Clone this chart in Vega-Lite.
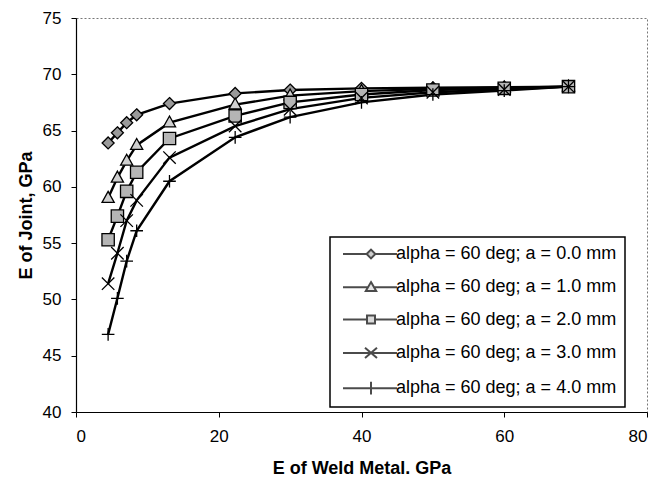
{
  "$schema": "https://vega.github.io/schema/vega-lite/v6.json",
  "width": 571,
  "height": 394,
  "autosize": {"type": "none"},
  "padding": {"left": 76, "top": 18, "right": 22, "bottom": 74},
  "background": "white",
  "config": {
    "font": "Liberation Sans",
    "view": {"stroke": "#777777", "strokeDash": [2, 2], "strokeWidth": 1},
    "axis": {
      "grid": false,
      "domainColor": "black",
      "domainWidth": 1.2,
      "tickColor": "black",
      "tickSize": 5,
      "labelColor": "black",
      "labelFontSize": 17,
      "titleColor": "black",
      "titleFontSize": 18,
      "titleFontWeight": "bold"
    },
    "legend": {
      "orient": "none",
      "legendX": 254,
      "legendY": 219,
      "strokeColor": "black",
      "strokeWidth": 1.5,
      "fillColor": "white",
      "padding": 8,
      "rowPadding": 14.3,
      "labelFontSize": 18,
      "labelColor": "black",
      "labelOffset": 40,
      "labelLimit": 400,
      "symbolSize": 64,
      "symbolStrokeWidth": 2
    }
  },
  "datasets": {
    "pts": [
      {"series": "alpha = 60 deg; a = 0.0 mm", "x": 4.5, "y": 63.9},
      {"series": "alpha = 60 deg; a = 0.0 mm", "x": 5.8, "y": 64.8},
      {"series": "alpha = 60 deg; a = 0.0 mm", "x": 7.1, "y": 65.7},
      {"series": "alpha = 60 deg; a = 0.0 mm", "x": 8.5, "y": 66.4},
      {"series": "alpha = 60 deg; a = 0.0 mm", "x": 13.1, "y": 67.4},
      {"series": "alpha = 60 deg; a = 0.0 mm", "x": 22.3, "y": 68.3},
      {"series": "alpha = 60 deg; a = 0.0 mm", "x": 30, "y": 68.6},
      {"series": "alpha = 60 deg; a = 0.0 mm", "x": 40, "y": 68.75},
      {"series": "alpha = 60 deg; a = 0.0 mm", "x": 50, "y": 68.8},
      {"series": "alpha = 60 deg; a = 0.0 mm", "x": 60, "y": 68.85},
      {"series": "alpha = 60 deg; a = 0.0 mm", "x": 69, "y": 68.9},
      {"series": "alpha = 60 deg; a = 1.0 mm", "x": 4.5, "y": 59.0},
      {"series": "alpha = 60 deg; a = 1.0 mm", "x": 5.8, "y": 60.8},
      {"series": "alpha = 60 deg; a = 1.0 mm", "x": 7.1, "y": 62.3},
      {"series": "alpha = 60 deg; a = 1.0 mm", "x": 8.5, "y": 63.7},
      {"series": "alpha = 60 deg; a = 1.0 mm", "x": 13.1, "y": 65.7},
      {"series": "alpha = 60 deg; a = 1.0 mm", "x": 22.3, "y": 67.3},
      {"series": "alpha = 60 deg; a = 1.0 mm", "x": 30, "y": 68.1},
      {"series": "alpha = 60 deg; a = 1.0 mm", "x": 40, "y": 68.5},
      {"series": "alpha = 60 deg; a = 1.0 mm", "x": 50, "y": 68.7},
      {"series": "alpha = 60 deg; a = 1.0 mm", "x": 60, "y": 68.8},
      {"series": "alpha = 60 deg; a = 1.0 mm", "x": 69, "y": 68.9},
      {"series": "alpha = 60 deg; a = 2.0 mm", "x": 4.5, "y": 55.3},
      {"series": "alpha = 60 deg; a = 2.0 mm", "x": 5.8, "y": 57.4},
      {"series": "alpha = 60 deg; a = 2.0 mm", "x": 7.1, "y": 59.6},
      {"series": "alpha = 60 deg; a = 2.0 mm", "x": 8.5, "y": 61.3},
      {"series": "alpha = 60 deg; a = 2.0 mm", "x": 13.1, "y": 64.3},
      {"series": "alpha = 60 deg; a = 2.0 mm", "x": 22.3, "y": 66.3},
      {"series": "alpha = 60 deg; a = 2.0 mm", "x": 30, "y": 67.5},
      {"series": "alpha = 60 deg; a = 2.0 mm", "x": 40, "y": 68.2},
      {"series": "alpha = 60 deg; a = 2.0 mm", "x": 50, "y": 68.6},
      {"series": "alpha = 60 deg; a = 2.0 mm", "x": 60, "y": 68.75},
      {"series": "alpha = 60 deg; a = 2.0 mm", "x": 69, "y": 68.9},
      {"series": "alpha = 60 deg; a = 3.0 mm", "x": 4.5, "y": 51.4},
      {"series": "alpha = 60 deg; a = 3.0 mm", "x": 5.8, "y": 54.1},
      {"series": "alpha = 60 deg; a = 3.0 mm", "x": 7.1, "y": 57.0},
      {"series": "alpha = 60 deg; a = 3.0 mm", "x": 8.5, "y": 58.8},
      {"series": "alpha = 60 deg; a = 3.0 mm", "x": 13.1, "y": 62.6},
      {"series": "alpha = 60 deg; a = 3.0 mm", "x": 22.3, "y": 65.4},
      {"series": "alpha = 60 deg; a = 3.0 mm", "x": 30, "y": 66.9},
      {"series": "alpha = 60 deg; a = 3.0 mm", "x": 40, "y": 67.9},
      {"series": "alpha = 60 deg; a = 3.0 mm", "x": 50, "y": 68.4},
      {"series": "alpha = 60 deg; a = 3.0 mm", "x": 60, "y": 68.65},
      {"series": "alpha = 60 deg; a = 3.0 mm", "x": 69, "y": 68.9},
      {"series": "alpha = 60 deg; a = 4.0 mm", "x": 4.5, "y": 46.9},
      {"series": "alpha = 60 deg; a = 4.0 mm", "x": 5.8, "y": 50.1},
      {"series": "alpha = 60 deg; a = 4.0 mm", "x": 7.1, "y": 53.4},
      {"series": "alpha = 60 deg; a = 4.0 mm", "x": 8.5, "y": 56.1},
      {"series": "alpha = 60 deg; a = 4.0 mm", "x": 13.1, "y": 60.5},
      {"series": "alpha = 60 deg; a = 4.0 mm", "x": 22.3, "y": 64.4},
      {"series": "alpha = 60 deg; a = 4.0 mm", "x": 30, "y": 66.2},
      {"series": "alpha = 60 deg; a = 4.0 mm", "x": 40, "y": 67.5},
      {"series": "alpha = 60 deg; a = 4.0 mm", "x": 50, "y": 68.2},
      {"series": "alpha = 60 deg; a = 4.0 mm", "x": 60, "y": 68.55},
      {"series": "alpha = 60 deg; a = 4.0 mm", "x": 69, "y": 68.9}
    ]
  },
  "data": {"name": "pts"},
  "encoding": {
    "x": {
      "field": "x",
      "type": "quantitative",
      "scale": {"domain": [0, 80], "nice": false},
      "axis": {"values": [0, 20, 40, 60, 80], "title": "E of Weld Metal. GPa", "labelPadding": 11, "titlePadding": 15}
    },
    "y": {
      "field": "y",
      "type": "quantitative",
      "scale": {"domain": [40, 75], "nice": false, "zero": false},
      "axis": {"values": [40, 45, 50, 55, 60, 65, 70, 75], "title": "E of Joint, GPa", "labelPadding": 10, "titlePadding": 7}
    }
  },
  "layer": [
    {
      "mark": {"type": "line", "color": "black", "strokeWidth": 2.4},
      "encoding": {"detail": {"field": "series", "type": "nominal"}}
    },
    {
      "mark": {"type": "point", "filled": true, "stroke": "black", "opacity": 1},
      "encoding": {
        "shape": {
          "field": "series", "type": "nominal",
          "scale": {
            "domain": ["alpha = 60 deg; a = 0.0 mm", "alpha = 60 deg; a = 1.0 mm", "alpha = 60 deg; a = 2.0 mm", "alpha = 60 deg; a = 3.0 mm", "alpha = 60 deg; a = 4.0 mm"],
            "range": ["M0,-1L1,0L0,1L-1,0Z", "M0,-1.1L1,0.7L-1,0.7Z", "M-1,-1H1V1H-1Z", "M-1,-1L1,1M-1,1L1,-1", "M-1,0H1M0,-1V1"]
          },
          "legend": null
        },
        "fill": {
          "field": "series", "type": "nominal",
          "scale": {
            "domain": ["alpha = 60 deg; a = 0.0 mm", "alpha = 60 deg; a = 1.0 mm", "alpha = 60 deg; a = 2.0 mm", "alpha = 60 deg; a = 3.0 mm", "alpha = 60 deg; a = 4.0 mm"],
            "range": ["#9a9a9a", "#cfcfcf", "#b5b5b5", "transparent", "transparent"]
          },
          "legend": null
        },
        "size": {
          "field": "series", "type": "nominal",
          "scale": {
            "domain": ["alpha = 60 deg; a = 0.0 mm", "alpha = 60 deg; a = 1.0 mm", "alpha = 60 deg; a = 2.0 mm", "alpha = 60 deg; a = 3.0 mm", "alpha = 60 deg; a = 4.0 mm"],
            "range": [144, 160, 110, 169, 289]
          },
          "legend": null
        },
        "strokeWidth": {
          "field": "series", "type": "nominal",
          "scale": {
            "domain": ["alpha = 60 deg; a = 0.0 mm", "alpha = 60 deg; a = 1.0 mm", "alpha = 60 deg; a = 2.0 mm", "alpha = 60 deg; a = 3.0 mm", "alpha = 60 deg; a = 4.0 mm"],
            "range": [1.3, 1.3, 2.4, 1.7, 1.7]
          },
          "legend": null
        }
      }
    },
    {
      "transform": [{"filter": "datum.y > 1000"}],
      "mark": {"type": "point", "filled": true, "stroke": "black", "strokeWidth": 2},
      "encoding": {
        "shape": {
          "field": "series", "type": "nominal",
          "scale": {
            "domain": ["alpha = 60 deg; a = 0.0 mm", "alpha = 60 deg; a = 1.0 mm", "alpha = 60 deg; a = 2.0 mm", "alpha = 60 deg; a = 3.0 mm", "alpha = 60 deg; a = 4.0 mm"],
            "range": [
              "M-1,0H4.9M4.9,0L6,-1.1L7.1,0L6,1.1ZM7.1,0H12.5",
              "M-1,0H5.3M6,-1.3L7.3,0.9H4.7ZM6.7,0H12.5",
              "M-1,0H5M5,-1H7V1H5ZM7,0H12.5",
              "M-1,0H12.5M4.5,-1.3L7.5,1.3M4.5,1.3L7.5,-1.3",
              "M-1,0H12.5M6,-1.6V1.6"
            ]
          },
          "legend": {
            "title": null,
            "encode": {"symbols": {"stroke": {"value": "black"}, "strokeWidth": {"value": 2}, "strokeOpacity": {"value": 1}}}
          }
        },
        "fill": {
          "field": "series", "type": "nominal",
          "scale": {
            "domain": ["alpha = 60 deg; a = 0.0 mm", "alpha = 60 deg; a = 1.0 mm", "alpha = 60 deg; a = 2.0 mm", "alpha = 60 deg; a = 3.0 mm", "alpha = 60 deg; a = 4.0 mm"],
            "range": ["#9a9a9a", "#cfcfcf", "#b5b5b5", "transparent", "transparent"]
          },
          "legend": {
            "title": null,
            "encode": {"symbols": {"stroke": {"value": "black"}, "strokeWidth": {"value": 2}, "strokeOpacity": {"value": 1}}}
          }
        }
      }
    }
  ],
  "resolve": {"scale": {"shape": "independent", "fill": "independent"}}
}
